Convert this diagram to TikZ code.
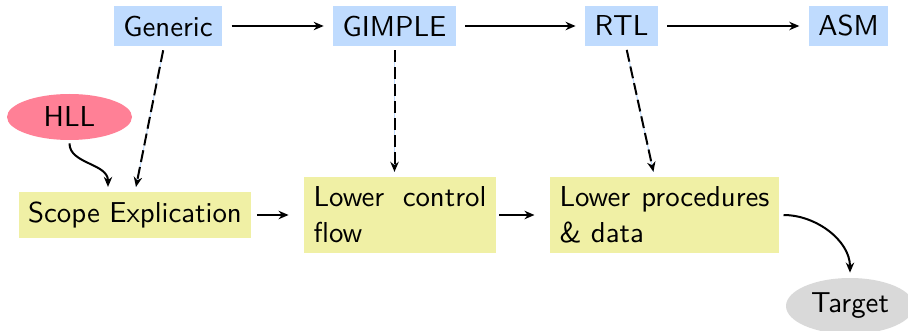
\documentclass[tikz,border=0pt]{standalone}
\usepackage{fontspec}
\setsansfont{lmsans10-regular.otf}
\usetikzlibrary{shapes.geometric,arrows.meta}
\definecolor{boxblue}{RGB}{191,219,254}
\definecolor{boxyellow}{RGB}{240,240,165}
\definecolor{hllpink}{RGB}{255,128,150}
\definecolor{targetgray}{RGB}{217,217,217}
\begin{document}
\begin{tikzpicture}[x=0.5pt,y=-0.5pt,
  font=\sffamily\fontsize{14.4}{18}\selectfont,
  irbox/.style={fill=boxblue, inner sep=4.8pt},
  passbox/.style={fill=boxyellow, inner sep=4.8pt},
  passtext/.style={passbox, text width=#1, align=justify},
  tipstyle/.style={-{Stealth[length=5pt,width=4.2pt,inset=1.6pt]}},
  flow/.style={tipstyle, line width=1pt},
  dep/.style={tipstyle, line width=1pt, dash pattern=on 6pt off 2.5pt,
    preaction={draw=boxblue, solid, line width=0.5pt, -}},
]
\useasboundingbox (0,0) rectangle (908,331);
% IR row
\node[irbox] (Generic) at (168,26) {Generic};
\node[irbox] (GIMPLE) at (394.5,26) {GIMPLE};
\node[irbox] (RTL) at (621.5,26) {RTL};
\node[irbox] (ASM) at (848.5,26) {ASM};
% pass row
\node[passbox] (Scope) at (135,215) {Scope Explication};
\node[passtext=86.4pt] (LCF) at (400,215) {Lower control flow};
\node[passtext=105pt] (LPD) at (664.5,215) {Lower procedures \& data};
% ellipses
\node[ellipse, fill=hllpink, inner sep=0pt, minimum width=62.5pt, minimum height=23pt] (HLL) at (69.5,117) {HLL\hspace{12.5pt}};
\node[ellipse, fill=targetgray, inner sep=0pt, minimum width=64pt, minimum height=28pt] (Target) at (850,306) {Target};
% IR arrows
\draw[flow, shorten <=4.5pt, shorten >=4.5pt] (Generic) -- (GIMPLE);
\draw[flow, shorten <=4.5pt, shorten >=4.5pt] (GIMPLE) -- (RTL);
\draw[flow, shorten <=4.5pt, shorten >=4.5pt] (RTL) -- (ASM);
% dashed
\draw[dep, shorten <=2pt, shorten >=2.5pt] (Generic) -- (Scope.north);
\draw[dep, shorten <=2pt, shorten >=2.5pt] (GIMPLE.south) -- (GIMPLE.south |- LCF.north);
\draw[dep, shorten <=2pt, shorten >=2.5pt] (RTL) -- ([xshift=-5pt]LPD.north);
% pass arrows
\draw[flow, shorten <=2.5pt, shorten >=7.5pt] (Scope) -- (LCF);
\draw[flow, shorten <=1.5pt, shorten >=7.5pt] (LCF) -- (LPD);
\draw[flow, shorten <=1.5pt] (HLL.south) to[out=-90,in=90] ([xshift=-13.5pt,yshift=2.5pt]Scope.north);
\draw[flow, shorten <=2pt, shorten >=2.5pt] (LPD.east) to[out=0,in=90] (Target.north);
\end{tikzpicture}
\end{document}
